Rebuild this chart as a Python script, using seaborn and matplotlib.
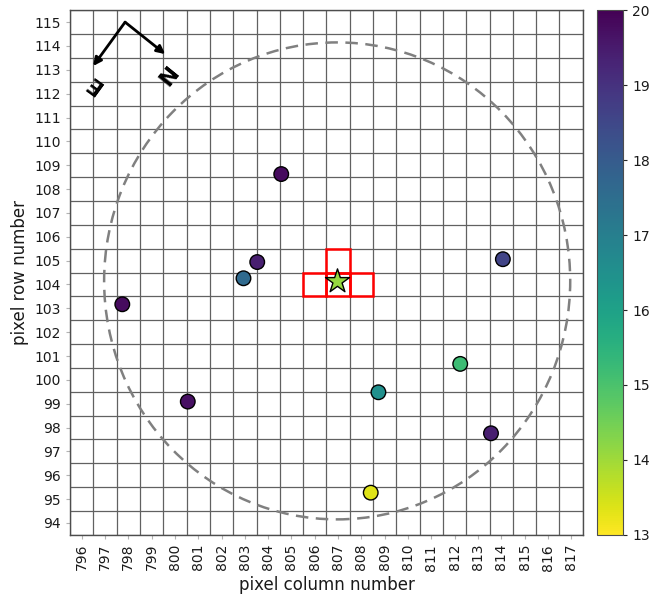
import numpy as np
import pandas as pd
import matplotlib
matplotlib.use("Agg")
import matplotlib.pyplot as plt
from matplotlib.patches import Rectangle, Circle
import seaborn as sns

# Nearby sources: pixel column, pixel row, magnitude
src_col = [804.56, 803.53, 802.94, 797.74, 800.55, 814.07, 812.24, 808.73, 813.56, 808.40]
src_row = [108.63, 104.94, 104.26, 103.17, 99.09, 105.06, 100.67, 99.48, 97.76, 95.27]
src_mag = [19.8, 19.4, 17.6, 19.8, 19.7, 18.6, 15.2, 16.5, 19.4, 13.35]

# Target star
target_col = 806.96
target_row = 104.15
target_mag = 14.1

# Aperture pixels (column, row)
aperture_cols = [807, 806, 807, 808]
aperture_rows = [105, 104, 104, 104]

search_radius = 10.0

col_ticks = list(range(796, 818))
row_ticks = list(range(94, 116))
mag_ticks = list(range(13, 21))
mag_min, mag_max = 13, 20

sns.set_style("ticks")
plt.rcParams["font.family"] = ["DejaVu Sans"]

fig = plt.figure(figsize=(6.49, 6.01), dpi=100)
ax = fig.add_axes([0.108, 0.110, 0.790, 0.873])
cax = fig.add_axes([0.920, 0.110, 0.040, 0.873])

cmap = plt.get_cmap("viridis_r")
norm = matplotlib.colors.Normalize(vmin=mag_min, vmax=mag_max)

# Pixel boundary grid
for c in np.arange(col_ticks[0] - 0.5, col_ticks[-1] + 1.0, 1.0):
    ax.axvline(c, color="0.38", lw=0.9, zorder=1)
for r in np.arange(row_ticks[0] - 0.5, row_ticks[-1] + 1.0, 1.0):
    ax.axhline(r, color="0.38", lw=0.9, zorder=1)

# Search circle
ax.add_patch(Circle((target_col, target_row), search_radius, fill=False,
                    ls=(0, (5, 3)), lw=1.8, ec="0.5", zorder=2))

# Aperture
for c, r in zip(aperture_cols, aperture_rows):
    ax.add_patch(Rectangle((c - 0.5, r - 0.5), 1, 1, fill=False, ec="red",
                           lw=1.8, zorder=3))

df = pd.DataFrame({"col": src_col, "row": src_row, "mag": src_mag})
sns.scatterplot(data=df, x="col", y="row", hue="mag", palette=cmap,
                hue_norm=norm, s=110, edgecolor="black", linewidth=1.0,
                legend=False, ax=ax, zorder=4)

ax.scatter([target_col], [target_row], marker="*", s=330,
           color=cmap(norm(target_mag)), edgecolor="black", linewidth=1.0,
           zorder=5)

# Compass
origin = (797.86, 115.0)
east_tip = (796.49, 113.16)
north_tip = (799.58, 113.66)
for tip in (east_tip, north_tip):
    ax.annotate("", xy=tip, xytext=origin,
                arrowprops=dict(arrowstyle="-|>", color="black", lw=2,
                                mutation_scale=12, shrinkA=0, shrinkB=0),
                zorder=6)
ax.text(796.5, 112.45, "E", rotation=144, fontsize=16, fontweight="heavy",
        color="black", ha="center", va="center", rotation_mode="anchor",
        zorder=6)
ax.text(799.5, 112.8, "N", rotation=-129, fontsize=16, fontweight="heavy",
        color="black", ha="center", va="center", rotation_mode="anchor",
        zorder=6)

ax.set_xlim(col_ticks[0] - 0.5, col_ticks[-1] + 0.5)
ax.set_ylim(row_ticks[0] - 0.5, row_ticks[-1] + 0.5)
ax.set_xticks(col_ticks)
ax.set_yticks(row_ticks)
ax.set_xticklabels([str(t) for t in col_ticks], rotation=90)
ax.tick_params(axis="both", labelsize=10, length=3, color="0.7", labelcolor="0.1")
ax.set_xlabel("pixel column number", fontsize=12, color="0.1")
ax.set_ylabel("pixel row number", fontsize=12, color="0.1")
for sp in ax.spines.values():
    sp.set_color("0.3")
    sp.set_linewidth(1.0)

sm = matplotlib.cm.ScalarMappable(norm=norm, cmap=cmap)
cb = fig.colorbar(sm, cax=cax, ticks=mag_ticks)
cb.ax.tick_params(labelsize=10, length=3, labelcolor="0.1")
cb.outline.set_edgecolor("0.3")

fig.savefig("out.png", dpi=100)
